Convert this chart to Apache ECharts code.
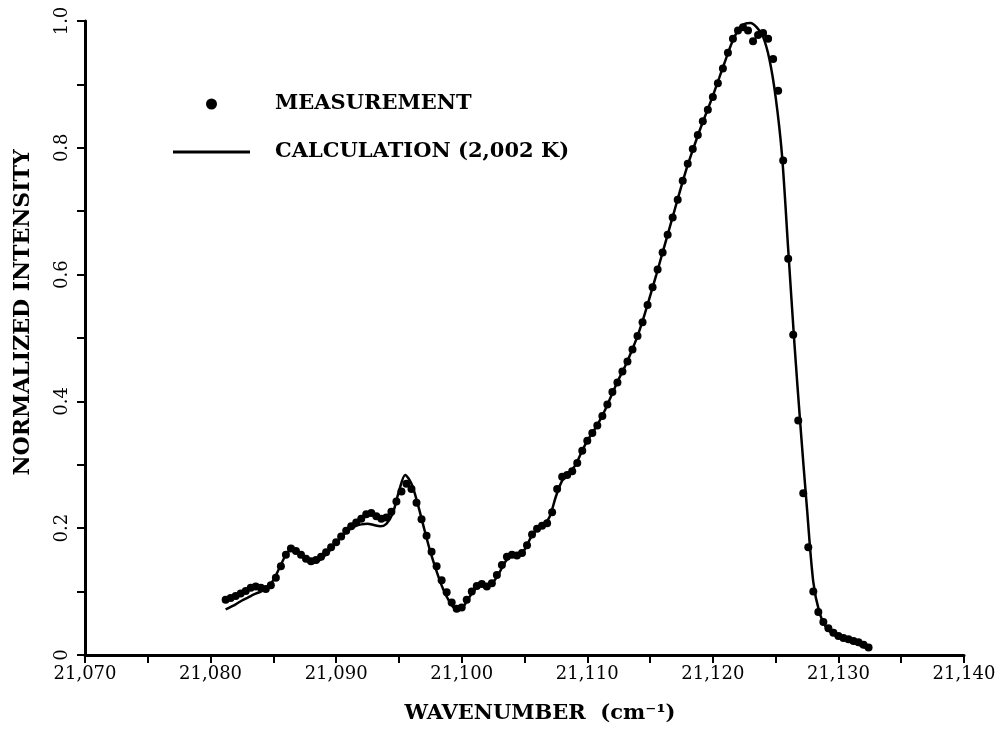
<!DOCTYPE html>
<html>
<head>
<meta charset="utf-8">
<script src="https://cdn.jsdelivr.net/npm/echarts@6/dist/echarts.min.js"></script>
<style>
  html, body { margin: 0; padding: 0; background: #ffffff; }
  #chart { width: 1001px; height: 731px; }
</style>
</head>
<body>
<div id="chart"></div>
<script>
// ---- Data ----
const measX = [
  21081.2, 21081.6, 21082.0, 21082.4, 21082.8, 21083.2, 21083.6, 21084.0, 21084.4, 21084.8,
  21085.2, 21085.6, 21086.0, 21086.4, 21086.8, 21087.2, 21087.6, 21088.0, 21088.4, 21088.8,
  21089.2, 21089.6, 21090.0, 21090.4, 21090.8, 21091.2, 21091.6, 21092.0, 21092.4, 21092.8,
  21093.2, 21093.6, 21094.0, 21094.4, 21094.8, 21095.2, 21095.6, 21096.0, 21096.4, 21096.8,
  21097.2, 21097.6, 21098.0, 21098.4, 21098.8, 21099.2, 21099.6, 21100.0, 21100.4, 21100.8,
  21101.2, 21101.6, 21102.0, 21102.4, 21102.8, 21103.2, 21103.6, 21104.0, 21104.4, 21104.8,
  21105.2, 21105.6, 21106.0, 21106.4, 21106.8, 21107.2, 21107.6, 21108.0, 21108.4, 21108.8,
  21109.2, 21109.6, 21110.0, 21110.4, 21110.8, 21111.2, 21111.6, 21112.0, 21112.4, 21112.8,
  21113.2, 21113.6, 21114.0, 21114.4, 21114.8, 21115.2, 21115.6, 21116.0, 21116.4, 21116.8,
  21117.2, 21117.6, 21118.0, 21118.4, 21118.8, 21119.2, 21119.6, 21120.0, 21120.4, 21120.8,
  21121.2, 21121.6, 21122.0, 21122.4, 21122.8, 21123.2, 21123.6, 21124.0, 21124.4, 21124.8,
  21125.2, 21125.6, 21126.0, 21126.4, 21126.8, 21127.2, 21127.6, 21128.0, 21128.4, 21128.8,
  21129.2, 21129.6, 21130.0, 21130.4, 21130.8, 21131.2, 21131.6, 21132.0, 21132.4
];
const measY = [
  0.087, 0.090, 0.093, 0.097, 0.101, 0.106, 0.108, 0.106, 0.104, 0.110,
  0.122, 0.140, 0.158, 0.168, 0.164, 0.158, 0.152, 0.148, 0.150, 0.155,
  0.162, 0.170, 0.178, 0.187, 0.196, 0.203, 0.209, 0.215, 0.222, 0.224,
  0.219, 0.215, 0.217, 0.226, 0.242, 0.258, 0.270, 0.262, 0.240, 0.214,
  0.188, 0.163, 0.140, 0.118, 0.099, 0.083, 0.073, 0.075, 0.087, 0.100,
  0.109, 0.112, 0.108, 0.113, 0.126, 0.142, 0.155, 0.158, 0.157, 0.161,
  0.173, 0.190, 0.199, 0.204, 0.208, 0.225, 0.262, 0.281, 0.284, 0.290,
  0.303, 0.322, 0.338, 0.350, 0.362, 0.377, 0.395, 0.415, 0.430, 0.447,
  0.463, 0.482, 0.503, 0.525, 0.552, 0.580, 0.608, 0.635, 0.663, 0.690,
  0.718, 0.748, 0.775, 0.798, 0.820, 0.842, 0.860, 0.880, 0.902, 0.925,
  0.950, 0.972, 0.985, 0.990, 0.985, 0.968, 0.978, 0.981, 0.972, 0.940,
  0.890, 0.780, 0.625, 0.505, 0.370, 0.255, 0.170, 0.100, 0.068, 0.052,
  0.042, 0.035, 0.030, 0.027, 0.025, 0.022, 0.020, 0.016, 0.012
];
const calcX = [
  21081.2, 21082.0, 21082.5, 21083.0, 21083.5, 21084.0, 21084.5, 21085.0, 21085.5, 21086.0,
  21086.5, 21087.0, 21087.5, 21088.0, 21088.5, 21089.0, 21089.5, 21090.0, 21090.5, 21091.0,
  21091.5, 21092.0, 21092.5, 21093.0, 21093.5, 21094.0, 21094.5, 21095.0, 21095.5, 21096.0,
  21096.5, 21097.0, 21097.5, 21098.0, 21098.5, 21099.0, 21099.5, 21100.0, 21100.5, 21101.0,
  21101.5, 21102.0, 21102.5, 21103.0, 21103.5, 21104.0, 21104.5, 21105.0, 21105.5, 21106.0,
  21106.5, 21107.0, 21107.5, 21108.0, 21108.5, 21109.0, 21109.5, 21110.0, 21110.5, 21111.0,
  21111.5, 21112.0, 21112.5, 21113.0, 21113.5, 21114.0, 21114.5, 21115.0, 21115.5, 21116.0,
  21116.5, 21117.0, 21117.5, 21118.0, 21118.5, 21119.0, 21119.5, 21120.0, 21120.5, 21121.0,
  21121.5, 21122.0, 21122.5, 21123.0, 21123.5, 21124.0, 21124.5, 21125.0, 21125.5, 21126.0,
  21126.5, 21127.0, 21127.5, 21128.0, 21128.5, 21129.0, 21129.5, 21130.0, 21130.5, 21131.0,
  21131.5, 21132.0, 21132.3
];
const calcY = [
  0.072, 0.080, 0.086, 0.091, 0.096, 0.100, 0.106, 0.118, 0.138, 0.158,
  0.168, 0.162, 0.152, 0.145, 0.147, 0.155, 0.165, 0.177, 0.188, 0.197,
  0.203, 0.206, 0.207, 0.205, 0.203, 0.207, 0.223, 0.258, 0.284, 0.270,
  0.238, 0.200, 0.163, 0.132, 0.105, 0.085, 0.073, 0.074, 0.088, 0.102,
  0.110, 0.110, 0.115, 0.130, 0.148, 0.157, 0.158, 0.166, 0.185, 0.198,
  0.205, 0.218, 0.250, 0.275, 0.287, 0.298, 0.318, 0.338, 0.353, 0.370,
  0.390, 0.413, 0.435, 0.455, 0.478, 0.503, 0.533, 0.566, 0.600, 0.635,
  0.670, 0.705, 0.740, 0.773, 0.802, 0.830, 0.856, 0.882, 0.910, 0.938,
  0.965, 0.985, 0.995, 0.997, 0.990, 0.975, 0.940, 0.880, 0.790, 0.640,
  0.490, 0.355, 0.230, 0.115, 0.066, 0.044, 0.034, 0.028, 0.024, 0.020,
  0.017, 0.013, 0.010
];
const xTickValues = [21070, 21080, 21090, 21100, 21110, 21120, 21130, 21140];
const xTickLabels = ['21,070', '21,080', '21,090', '21,100', '21,110', '21,120', '21,130', '21,140'];
const yTickValues = [0, 0.2, 0.4, 0.6, 0.8, 1.0];
const yTickLabels = ['0', '0.2', '0.4', '0.6', '0.8', '1.0'];
const seriesNames = ['MEASUREMENT', 'CALCULATION (2,002 K)'];

// ---- Chart ----
const FONT = 'DejaVu Serif';
const measData = measX.map((x, i) => [x, measY[i]]);
const calcData = calcX.map((x, i) => [x, calcY[i]]);

function lookup(values, labels, v) {
  for (let i = 0; i < values.length; i++) {
    if (Math.abs(values[i] - v) < 1e-6) return labels[i];
  }
  return '';
}

const chart = echarts.init(document.getElementById('chart'), null, { renderer: 'canvas' });
chart.setOption({
  animation: false,
  backgroundColor: '#ffffff',
  grid: { left: 85, right: 37, top: 21, bottom: 76, containLabel: false },
  legend: {
    show: true,
    orient: 'vertical',
    left: 168,
    top: 87,
    itemWidth: 77,
    itemHeight: 11,
    itemGap: 24,
    data: [
      { name: seriesNames[0], icon: 'circle', itemStyle: { color: '#000', opacity: 1 } },
      { name: seriesNames[1], icon: 'path://M0,0H77V3H0Z', itemStyle: { color: '#000' } }
    ],
    textStyle: {
      fontFamily: FONT,
      fontSize: 21,
      fontWeight: 'bold',
      color: '#000',
      lineHeight: 24,
      padding: [0, 0, 0, 20]
    }
  },
  xAxis: {
    type: 'value',
    min: 21070,
    max: 21140,
    interval: 5,
    name: 'WAVENUMBER  (cm⁻¹)',
    nameLocation: 'middle',
    nameGap: 48,
    nameTextStyle: {
      fontFamily: FONT, fontSize: 21, fontWeight: 'bold', color: '#000',
      verticalAlign: 'top', padding: [0, 0, 0, 31]
    },
    splitLine: { show: false },
    axisLine: { show: true, onZero: false, lineStyle: { color: '#000', width: 3 } },
    axisTick: { show: true, length: 8, lineStyle: { color: '#000', width: 2 } },
    axisLabel: {
      margin: 10,
      fontFamily: FONT, fontSize: 18, color: '#000',
      showMinLabel: true, showMaxLabel: true,
      formatter: v => lookup(xTickValues, xTickLabels, v)
    }
  },
  yAxis: {
    type: 'value',
    min: 0,
    max: 1.0,
    interval: 0.1,
    name: 'NORMALIZED INTENSITY',
    nameLocation: 'middle',
    nameGap: 51,
    nameRotate: 90,
    nameTextStyle: {
      fontFamily: FONT, fontSize: 22, fontWeight: 'bold', color: '#000',
      padding: [0, 0, 0, 51]
    },
    splitLine: { show: false },
    axisLine: { show: true, onZero: false, lineStyle: { color: '#000', width: 3 } },
    axisTick: { show: true, length: 8, lineStyle: { color: '#000', width: 2 } },
    axisLabel: {
      rotate: 90,
      margin: 14,
      fontFamily: FONT, fontSize: 18, color: '#000',
      showMinLabel: true, showMaxLabel: true,
      formatter: v => lookup(yTickValues, yTickLabels, v)
    }
  },
  series: [
    {
      name: seriesNames[0],
      type: 'scatter',
      data: measData,
      symbol: 'circle',
      symbolSize: 8,
      itemStyle: { color: '#000', opacity: 1 },
      z: 3
    },
    {
      name: seriesNames[1],
      type: 'line',
      data: calcData,
      symbol: 'none',
      showSymbol: false,
      smooth: 0.3,
      lineStyle: { color: '#000', width: 2.5 },
      itemStyle: { color: '#000' },
      z: 2
    }
  ]
});
</script>
</body>
</html>
